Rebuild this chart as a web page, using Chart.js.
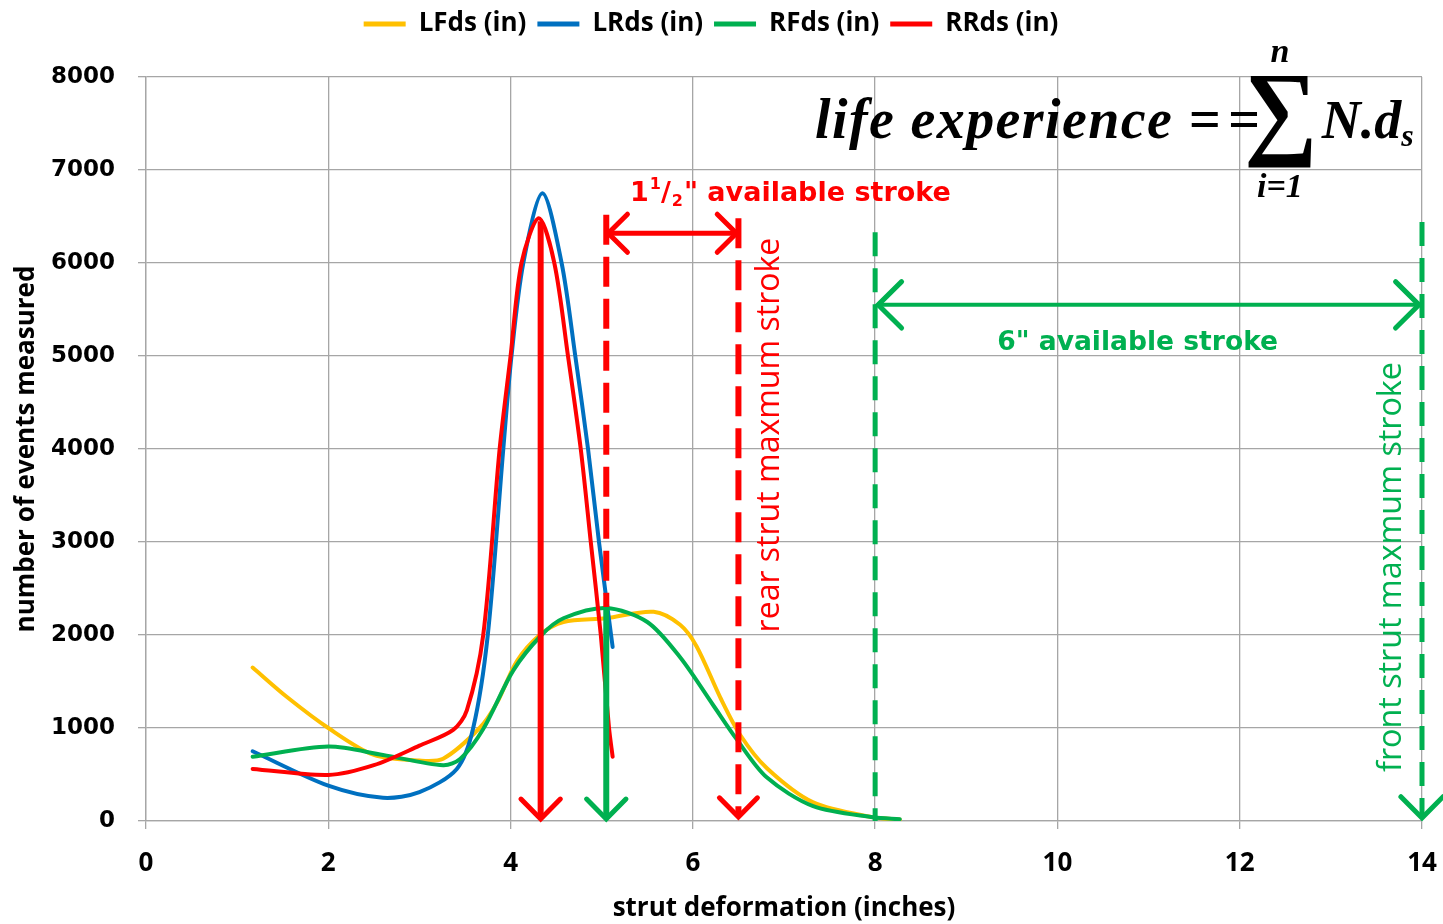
<!DOCTYPE html>
<html>
<head>
<meta charset="utf-8">
<title>strut deformation</title>
<script src="https://cdn.jsdelivr.net/npm/chart.js"></script>
<style>
  body { margin: 0; background: #fff; }
</style>
</head>
<body>
<canvas id="strutChart" width="1443" height="924"></canvas>
<script>
// values (x = strut deformation in inches, y = events)
const seriesLabels = ["LFds (in)", "LRds (in)", "RFds (in)", "RRds (in)"];
const seriesColors = ["#ffc000", "#0070c0", "#00b050", "#ff0000"];

const lfdsX = [1.17, 1.55, 2, 2.5, 3, 3.26, 3.66, 3.85, 4.07, 4.32, 4.58, 5.05, 5.57, 5.86, 6.04, 6.3, 6.52, 6.81, 7.32, 7.98, 8.27];
const lfdsY = [1650, 1330, 1000, 710, 650, 670, 1000, 1270, 1720, 2000, 2140, 2180, 2250, 2110, 1880, 1330, 925, 570, 200, 40, 15];

const lrdsX = [1.17, 2, 2.6, 3.0, 3.41, 3.59, 3.75, 3.92, 4.01, 4.14, 4.35, 4.56, 4.71, 4.85, 4.97, 5.12];
const lrdsY = [750, 380, 250, 310, 560, 1000, 2000, 4000, 5000, 6000, 6750, 6000, 5000, 4000, 3000, 1870];

const rfdsX = [1.17, 2, 2.6, 3.26, 3.45, 3.7, 4.03, 4.34, 4.58, 5.05, 5.5, 5.86, 6.22, 6.48, 6.81, 7.32, 7.98, 8.27];
const rfdsY = [690, 800, 710, 600, 670, 990, 1620, 2000, 2180, 2290, 2140, 1760, 1250, 880, 470, 160, 40, 20];

const rrdsX = [1.17, 2, 2.5, 3.0, 3.37, 3.52, 3.7, 3.88, 4.0, 4.12, 4.31, 4.48, 4.63, 4.77, 4.88, 4.99, 5.08, 5.12];
const rrdsY = [560, 495, 600, 810, 980, 1190, 2000, 4000, 5000, 6000, 6480, 6000, 5000, 4000, 3000, 2000, 1000, 690];

const xTickLabels = [0, 2, 4, 6, 8, 10, 12, 14];
const yTickLabels = [0, 1000, 2000, 3000, 4000, 5000, 6000, 7000, 8000];

const narrow = "'Liberation Sans Narrow', 'Open Sans', sans-serif";
const wide = "'DejaVu Sans', Verdana, sans-serif";
const serif = "'Liberation Serif', 'DejaVu Serif', serif";
const RED = "#ff0000", GREEN = "#00b050";
const gridColor = "#a6a6a6";

function makeSet(i, xs, ys, order) {
  return {
    label: seriesLabels[i],
    data: xs.map((x, k) => ({ x: x, y: ys[k] })),
    borderColor: seriesColors[i],
    backgroundColor: seriesColors[i],
    pointBorderColor: seriesColors[i],
    pointBackgroundColor: seriesColors[i],
    pointBorderWidth: 5,
    borderWidth: 4,
    pointRadius: 0,
    tension: 0.3,
    borderCapStyle: "round",
    fill: false,
    order: order
  };
}

// annotation arrows and texts, positioned in data units through the scales
const strokeNotes = {
  id: "strokeNotes",
  afterDatasetsDraw(chart) {
    const { ctx, scales } = chart;
    const X = v => scales.x.getPixelForValue(v);
    const Y = v => scales.y.getPixelForValue(v);
    const y0 = Y(0);

    ctx.save();
    function seg(x1, y1, x2, y2, color, w, dash) {
      ctx.beginPath();
      ctx.setLineDash(dash || []);
      ctx.strokeStyle = color;
      ctx.lineWidth = w;
      ctx.lineCap = "butt";
      ctx.moveTo(x1, y1);
      ctx.lineTo(x2, y2);
      ctx.stroke();
      ctx.setLineDash([]);
    }
    function head(x, y, dx, dy, color, w, size) {
      const a = Math.atan2(dy, dx), sp = 0.78;
      ctx.beginPath();
      ctx.strokeStyle = color;
      ctx.lineWidth = w;
      ctx.lineCap = "round";
      ctx.lineJoin = "miter";
      ctx.moveTo(x - size * Math.cos(a - sp), y - size * Math.sin(a - sp));
      ctx.lineTo(x, y);
      ctx.lineTo(x - size * Math.cos(a + sp), y - size * Math.sin(a + sp));
      ctx.stroke();
    }
    function txt(s, x, y, font, color, align, base) {
      ctx.font = font;
      ctx.fillStyle = color;
      ctx.textAlign = align || "left";
      ctx.textBaseline = base || "alphabetic";
      ctx.fillText(s, x, y);
      return ctx.measureText(s).width;
    }
    function fitSize(s, weight, family, target) {
      ctx.font = weight + " 100px " + family;
      return 100 * target / ctx.measureText(s).width;
    }

    // rear strut (red)
    seg(X(5.05), Y(6520), X(5.05), Y(2300), RED, 6, [30, 12]);
    seg(X(6.5), Y(6480), X(6.5), y0 - 6, RED, 6, [30, 12]);
    head(X(6.5), y0 - 4, 0, 1, RED, 5, 27);
    seg(X(4.33), Y(6450), X(4.33), y0 - 3, RED, 6);
    head(X(4.33), y0 - 2, 0, 1, RED, 5, 28);
    seg(X(5.05) + 2, Y(6320), X(6.5) - 2, Y(6320), RED, 5);
    head(X(5.05) + 2, Y(6320), -1, 0, RED, 5, 27);
    head(X(6.5) - 2, Y(6320), 1, 0, RED, 5, 27);

    // front strut (green)
    seg(X(5.05), Y(2300), X(5.05), y0 - 3, GREEN, 6);
    head(X(5.05), y0 - 2, 0, 1, GREEN, 5, 28);
    seg(X(8), Y(6330), X(8), y0, GREEN, 5, [24, 12]);
    seg(X(14), Y(6440), X(14), y0 - 4, GREEN, 5, [24, 12]);
    head(X(14), y0 - 3, 0, 1, GREEN, 5, 30);
    seg(X(8) + 2, Y(5550), X(14) - 2, Y(5550), GREEN, 4);
    head(X(8) + 3, Y(5550), -1, 0, GREEN, 5, 33);
    head(X(14) - 3, Y(5550), 1, 0, GREEN, 5, 33);

    // 1 1/2" available stroke
    const big = "bold 27px " + wide, small = "bold 16px " + wide;
    let cx = X(5.31);
    const b1 = Y(6670);
    cx += txt("1", cx, b1, big, RED) + 1;
    cx += txt("1", cx, b1 - 12, small, RED);
    cx += txt("/", cx, b1, big, RED) + 1;
    cx += txt("2", cx, b1 + 5, small, RED) + 1;
    txt("\" available stroke", cx, b1, big, RED);

    // 6" available stroke
    const gs = fitSize("6\" available stroke", "bold", wide, 281);
    txt("6\" available stroke", X(10.88), Y(5065), "bold " + gs + "px " + wide, GREEN, "center");

    // rotated labels
    const rs = fitSize("rear strut maxmum stroke", "normal", narrow, 395);
    ctx.save();
    ctx.translate(X(6.85), Y(4150));
    ctx.rotate(-Math.PI / 2);
    txt("rear strut maxmum stroke", 0, 0, rs + "px " + narrow, RED, "center", "middle");
    ctx.restore();
    const fs = fitSize("front strut maxmum stroke", "normal", narrow, 410);
    ctx.save();
    ctx.translate(X(13.67), Y(2731));
    ctx.rotate(-Math.PI / 2);
    txt("front strut maxmum stroke", 0, 0, fs + "px " + narrow, GREEN, "center", "middle");
    ctx.restore();

    // formula
    const fx = X(7.34), fb = Y(7344);
    const ff = "italic bold 56px " + serif;
    ctx.font = ff;
    const plain = ctx.measureText("life experience =").width;
    ctx.letterSpacing = Math.max(0, (407 - plain) / 17).toFixed(2) + "px";
    txt("life experience =", fx, fb, ff, "#000");
    ctx.letterSpacing = "0px";
    txt("=", X(11.87), fb, ff, "#000");
    // sigma scaled into its box
    ctx.font = "bold 100px " + serif;
    const m = ctx.measureText("\u2211");
    const gw = m.actualBoundingBoxLeft + m.actualBoundingBoxRight;
    const gh = m.actualBoundingBoxAscent + m.actualBoundingBoxDescent;
    const sl = X(12.09), st = Y(8020), sw = 64, sh = 93;
    ctx.save();
    ctx.translate(sl, st);
    ctx.scale(sw / gw, sh / gh);
    ctx.fillStyle = "#000";
    ctx.textAlign = "left";
    ctx.textBaseline = "alphabetic";
    ctx.fillText("\u2211", m.actualBoundingBoxLeft, m.actualBoundingBoxAscent);
    ctx.restore();
    const limf = "italic bold 34px " + serif;
    txt("n", sl + sw / 2, Y(8161), limf, "#000", "center");
    txt("i=1", sl + sw / 2, Y(6710), limf, "#000", "center");
    const nf = "italic bold 54px " + serif;
    let nx = X(12.9);
    nx += txt("N.", nx, fb, nf, "#000");
    nx += txt("d", nx, fb, nf, "#000");
    txt("s", nx, fb + 8, "italic bold 32px " + serif, "#000");

    ctx.restore();
  }
};

// make the legend band as tall as the space above the plot
const legendBand = {
  id: "legendBand",
  beforeInit(chart) {
    const fit = chart.legend.fit;
    chart.legend.fit = function () {
      fit.call(this);
      this.height = 77;
    };
  }
};

new Chart(document.getElementById("strutChart"), {
  type: "line",
  data: {
    datasets: [
      makeSet(0, lfdsX, lfdsY, 4),
      makeSet(1, lrdsX, lrdsY, 3),
      makeSet(2, rfdsX, rfdsY, 2),
      makeSet(3, rrdsX, rrdsY, 1)
    ]
  },
  options: {
    responsive: false,
    animation: false,
    events: [],
    layout: { padding: { left: 0, right: 21, top: 0, bottom: 0 } },
    plugins: {
      legend: {
        position: "top",
        labels: {
          usePointStyle: true,
          pointStyle: "line",
          pointStyleWidth: 42,
          padding: 11,
          color: "#000",
          font: { family: narrow, size: 26, weight: "bold" },
          sort: (a, b) => a.datasetIndex - b.datasetIndex
        }
      },
      tooltip: { enabled: false }
    },
    scales: {
      x: {
        type: "linear",
        min: 0,
        max: 14,
        ticks: {
          stepSize: 1,
          autoSkip: false,
          maxRotation: 0,
          padding: 19,
          color: "#000",
          font: { family: narrow, size: 26, weight: "bold" },
          callback: v => (xTickLabels.includes(v) ? String(v) : null)
        },
        grid: {
          color: gridColor,
          lineWidth: 1.3,
          tickLength: 8,
          tickColor: c => (c.tick && xTickLabels.includes(c.tick.value) ? gridColor : "rgba(0,0,0,0)")
        },
        border: { color: gridColor, width: 1.3 },
        title: {
          display: true,
          text: "strut deformation (inches)",
          color: "#000",
          font: { family: narrow, size: 26, weight: "bold" },
          padding: { top: 0, bottom: 0 }
        },
        afterFit(s) {
          s.height = 103;
          s.paddingLeft = 0;
          s.paddingRight = 0;
        }
      },
      y: {
        min: 0,
        max: 8000,
        ticks: {
          stepSize: 1000,
          padding: 23,
          color: "#000",
          font: { family: wide, size: 23, weight: "bold" },
          callback: v => (yTickLabels.includes(v) ? String(v) : null)
        },
        grid: { color: gridColor, lineWidth: 1.3, tickLength: 8 },
        border: { color: gridColor, width: 1.3 },
        title: {
          display: true,
          text: "number of events measured",
          color: "#000",
          font: { family: narrow, size: 26, weight: "bold" },
          padding: { top: 11, bottom: 0 }
        },
        afterFit(s) {
          s.width = 146;
        }
      }
    }
  },
  plugins: [legendBand, strokeNotes]
});
</script>
</body>
</html>
